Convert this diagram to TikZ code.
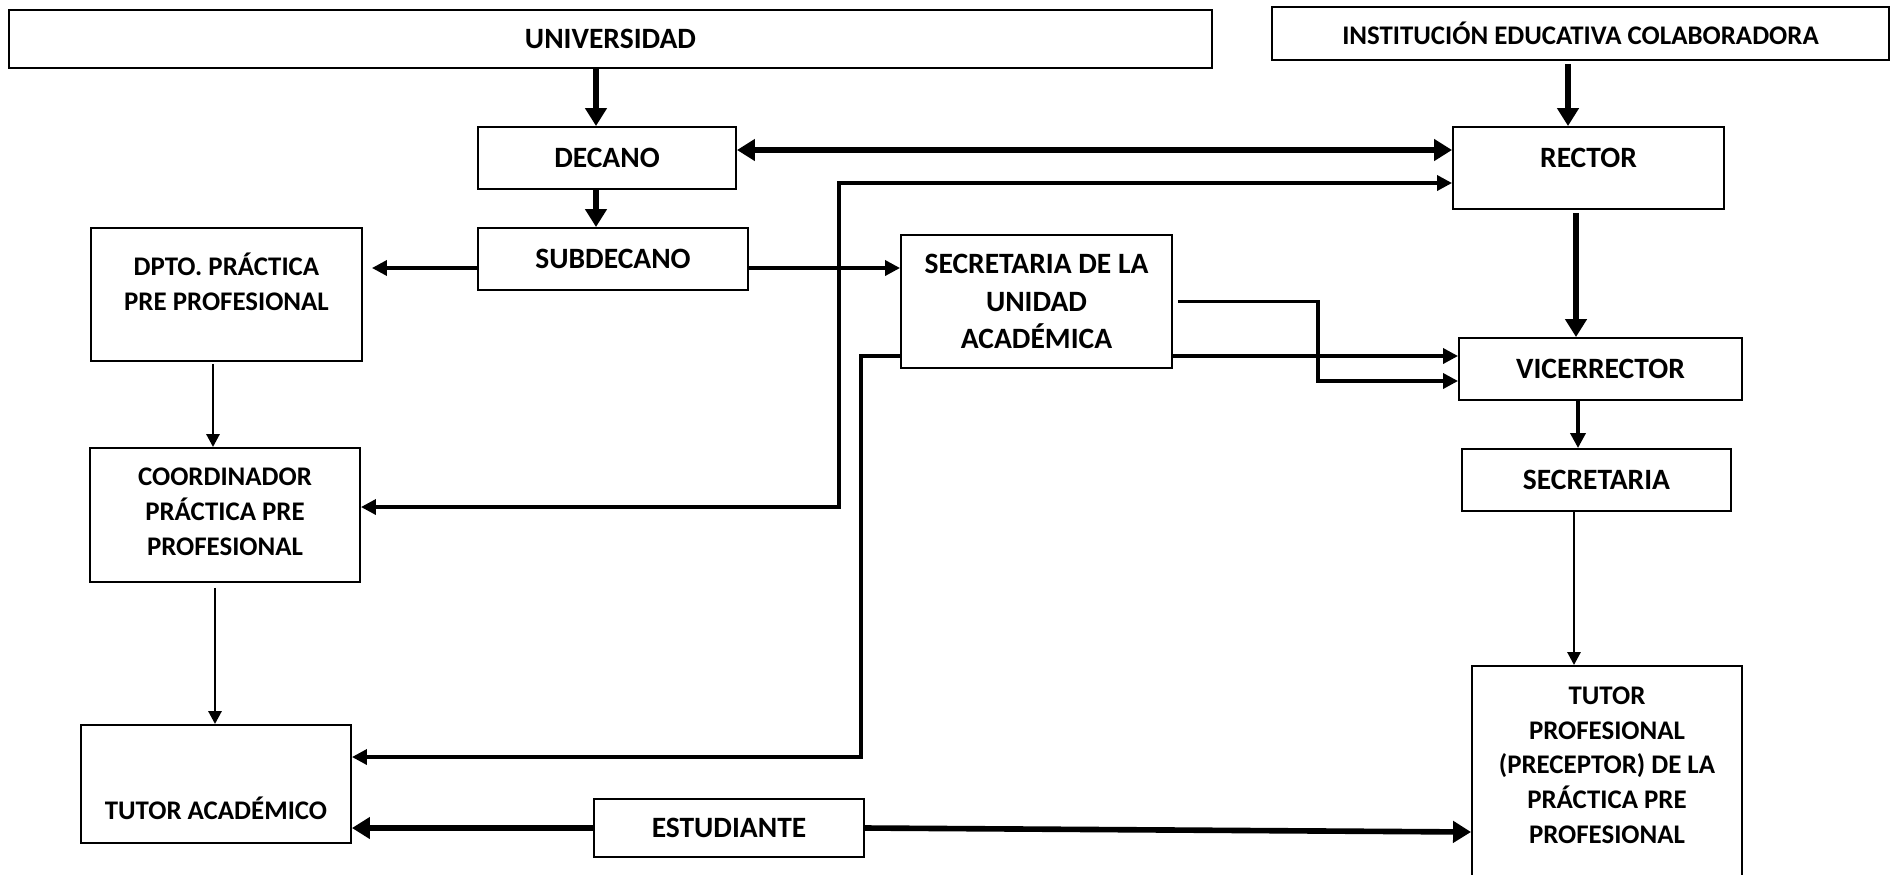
\documentclass[tikz,border=0pt]{standalone}
\usepackage{fontspec}
\setmainfont{Carlito}
\usepackage{tikz}
\usetikzlibrary{arrows.meta}
\usetikzlibrary{positioning}
\tikzstyle{box} = [rectangle, minimum width=5.4cm, minimum height=1.24cm, text centered, align=center, draw=black, line width=1.1pt]
\tikzstyle{smallbox} = [box, font=\fontsize{15.3}{19.8}\selectfont\bfseries]
\tikzstyle{bigarrow} = [line width=3.2pt, ->, >={Triangle[length=0.36cm, width=0.42cm]}]
\tikzstyle{arrow} = [line width=2pt, ->, >={Triangle[length=0.3cm, width=0.3cm]}]
\tikzstyle{thinarrow} = [line width=1.6pt, ->, >={Triangle[length=0.26cm, width=0.26cm]}]

\begin{document}
\begin{tikzpicture}[node distance=1cm, font=\fontsize{16.8}{21.5}\selectfont\bfseries]
        \useasboundingbox (0,0) rectangle (37.84,-17.48);
        \node (univ) [box, minimum width=24.06cm, minimum height=1.16cm] at (12.21,-0.78) {UNIVERSIDAD};
        \node (inst) [smallbox, right of=univ, xshift=18.40cm, yshift=0.11cm, minimum width=12.34cm, minimum height=1.06cm] {INSTITUCIÓN EDUCATIVA COLABORADORA};
        \node (decano) [box, below of=univ, xshift=-0.07cm, yshift=-1.38cm, minimum width=5.16cm] {DECANO};
        \node (subdec) [box, below of=decano, xshift=0.12cm, yshift=-1.02cm] {SUBDECANO};
        \node (dpto) [smallbox, left of=subdec, xshift=-6.73cm, yshift=-0.71cm, minimum width=5.42cm, minimum height=2.66cm, text depth=0.52cm] {DPTO. PRÁCTICA\\ PRE PROFESIONAL};
        \node (secua) [box, right of=subdec, xshift=7.47cm, yshift=-0.85cm, minimum width=5.42cm, minimum height=2.66cm] {SECRETARIA DE LA\\ UNIDAD\\ ACADÉMICA};
        \node (rector) [box, right of=decano, xshift=18.63cm, yshift=-0.20cm, minimum width=5.42cm, minimum height=1.64cm, text height=0.36cm, text depth=0.4cm] {RECTOR};
        \node (vice) [box, below of=rector, xshift=0.24cm, yshift=-3.02cm, minimum width=5.66cm] {VICERRECTOR};
        \node (secretaria) [box, below of=vice, xshift=-0.08cm, yshift=-1.22cm, minimum width=5.38cm] {SECRETARIA};
        \node (coord) [smallbox, below of=dpto, xshift=-0.03cm, yshift=-3.41cm, minimum height=2.68cm, text depth=0.14cm] {COORDINADOR\\ PRÁCTICA PRE\\ PROFESIONAL};
        \node (tutoraca) [smallbox, below of=coord, xshift=-0.18cm, yshift=-4.38cm, minimum height=2.36cm, text height=1.4cm, text depth=0cm] {TUTOR ACADÉMICO};
        \node (estud) [box, right of=tutoraca, xshift=9.26cm, yshift=-0.88cm, minimum height=1.16cm] {ESTUDIANTE};
        \node (tutorprof) [smallbox, below of=secretaria, xshift=0.21cm, yshift=-4.96cm, minimum height=4.48cm, text depth=0.52cm] {TUTOR\\ PROFESIONAL\\ (PRECEPTOR) DE LA\\ PRÁCTICA PRE\\ PROFESIONAL};

        \draw [bigarrow] ([xshift=-0.22cm]decano.north |- univ.south) -- ([xshift=-0.22cm]decano.north);
        \draw [bigarrow] ([xshift=-0.22cm]decano.south) -- ([xshift=-0.22cm]decano.south |- subdec.north);
        \draw [bigarrow, <->] ([yshift=0.16cm]decano.east) -- ([yshift=0.16cm]decano.east -| rector.west);
        \draw [arrow, <->] ([yshift=0.16cm]coord.east) -- ++(9.56,0) |- ([yshift=-0.3cm]rector.west);
        \draw [arrow, shorten >=0.18cm] ([yshift=-0.18cm]subdec.west) -- ([yshift=-0.18cm]subdec.west -| dpto.east);
        \draw [arrow] ([yshift=-0.18cm]subdec.east) -- ([yshift=-0.18cm]subdec.east -| secua.west);
        \draw [arrow] ([yshift=-1.09cm]secua.east) -- ([yshift=-1.09cm]secua.east -| vice.west);
        \draw [arrow] ([xshift=0.1cm]secua.east) -- ++(2.8,0) |- ([yshift=-0.24cm]vice.west);
        \draw [arrow] ([yshift=-1.09cm]secua.west) -- ++(-0.78,0) |- ([yshift=0.54cm]tutoraca.east);
        \draw [bigarrow] ([xshift=-0.25cm, yshift=-0.06cm]inst.south) -- ([xshift=-0.25cm]inst.south |- rector.north);
        \draw [bigarrow] ([xshift=-0.25cm, yshift=-0.06cm]rector.south) -- ([xshift=-0.25cm]rector.south |- vice.north);
        \draw [arrow] ([xshift=-0.45cm]vice.south) -- ([xshift=-0.45cm]vice.south |- secretaria.north);
        \draw [thinarrow] ([xshift=-0.45cm]secretaria.south) -- ([xshift=-0.45cm]secretaria.south |- tutorprof.north);
        \draw [thinarrow] ([xshift=-0.27cm, yshift=-0.04cm]dpto.south) -- ([xshift=-0.27cm]dpto.south |- coord.north);
        \draw [thinarrow] ([xshift=-0.2cm, yshift=-0.1cm]coord.south) -- ([xshift=-0.2cm]coord.south |- tutoraca.north);
        \draw [bigarrow] (estud.west) -- (estud.west -| tutoraca.east);
        \draw [bigarrow] (estud.east) -- ([yshift=-1.08cm]tutorprof.west);

    \end{tikzpicture}
\end{document}
